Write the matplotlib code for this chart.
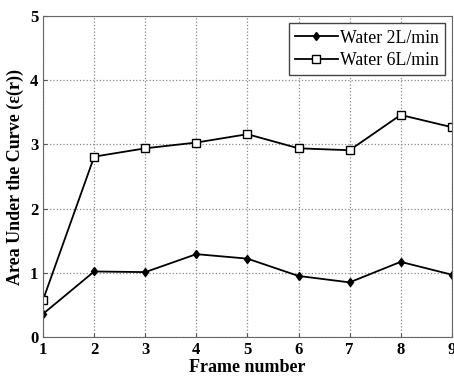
import matplotlib.pyplot as plt
import numpy as np

plt.rcParams['font.family'] = ['Liberation Serif', 'DejaVu Serif']
plt.rcParams['font.weight'] = 'bold'

frames = [1, 2, 3, 4, 5, 6, 7, 8, 9]
water_2 = [0.36, 1.02, 1.01, 1.29, 1.22, 0.95, 0.85, 1.17, 0.97]
water_6 = [0.58, 2.81, 2.94, 3.03, 3.16, 2.94, 2.91, 3.46, 3.27]

fig = plt.figure(figsize=(4.54, 3.76), dpi=100)
ax = fig.add_axes([0.095, 0.104, 0.9, 0.853])

ax.plot(frames, water_2, color='black', marker='d', markersize=4.5, lw=1.3,
        label='Water 2L/min')
ax.plot(frames, water_6, color='black', marker='s', markersize=6, lw=1.3,
        markerfacecolor='white', label='Water 6L/min')

ax.set_xlim(1, 9)
ax.set_ylim(0, 5)
ax.set_xticks(frames)
ax.set_yticks([0, 1, 2, 3, 4, 5])
ax.grid(True, linestyle=':', color='#888888', lw=0.9)
ax.tick_params(direction='in', labelsize=12, length=3, color='#555555')
for s in ax.spines.values():
    s.set_color('#666666')

ax.set_xlabel('Frame number', fontsize=13, fontweight='bold', labelpad=1)
ax.set_ylabel('Area Under the Curve (ε(r))', fontsize=13, fontweight='bold', labelpad=4)

leg = ax.legend(loc='upper right', prop={'size': 12.8, 'weight': 'normal'},
                fancybox=False, framealpha=1, edgecolor='#444444',
                handlelength=2.4, handletextpad=0.1, borderpad=0.35,
                labelspacing=0.3, borderaxespad=0.4)
leg.get_frame().set_linewidth(1.0)

fig.savefig('out.png', dpi=100)
